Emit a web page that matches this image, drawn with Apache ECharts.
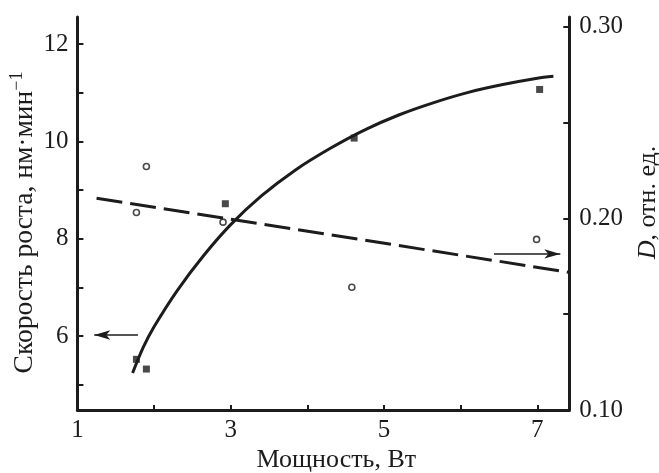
<!DOCTYPE html>
<html>
<head>
<meta charset="utf-8">
<script src="https://cdn.jsdelivr.net/npm/echarts@6/dist/echarts.min.js"></script>
<style>
  html, body { margin: 0; padding: 0; background: #fff; }
  #chart { width: 659px; height: 473px; }
</style>
</head>
<body>
<div id="chart"></div>
<script>
// Growth rate measurements (left axis), nm/min vs power, W
const powerSq = [1.77, 1.90, 2.93, 4.61, 7.03];
const growthSq = [5.52, 5.32, 8.72, 10.07, 11.07];

// Fitted growth-rate curve, sampled along its length
const fitPower = [1.72, 1.86, 2.00, 2.30, 2.65, 3.00, 3.40, 3.85, 4.30, 4.75, 5.20, 5.65, 6.10, 6.55, 7.00, 7.21];
const fitGrowth = [5.24, 5.77, 6.19, 6.93, 7.66, 8.29, 8.88, 9.42, 9.86, 10.24, 10.55, 10.80, 11.01, 11.17, 11.30, 11.34];

// D measurements (right axis), arb. units
const powerCirc = [1.77, 1.90, 2.90, 4.58, 6.99];
const dCirc = [0.203, 0.227, 0.198, 0.164, 0.189];

// Linear trend of D (dashed)
const dTrendPower = [1.25, 7.42];
const dTrendValue = [0.2105, 0.1718];

// Axis ticks and labels
const xTicks = [1, 2, 3, 4, 5, 6, 7];
const xLabels = [1, 3, 5, 7];
const yLeftTicks = [5, 6, 7, 8, 9, 10, 11, 12];
const yLeftLabels = [6, 8, 10, 12];
const yRightTicks = [0.10, 0.15, 0.20, 0.25, 0.30];
const yRightLabels = [0.10, 0.20, 0.30];

// Arrows pointing each data set to its axis
const arrowLeft = { from: [1.79, 6.02], to: [1.22, 6.02] };
const arrowRight = { from: [6.435, 0.1814], to: [7.30, 0.1814] };

const ink = '#1c1c1c';
const serif = '"Liberation Serif", "Times New Roman", serif';

const zip = (a, b) => a.map((v, i) => [v, b[i]]);

const axisCommon = {
  axisLine: { show: true, onZero: false, lineStyle: { color: ink, width: 3 } },
  splitLine: { show: false },
  axisLabel: { color: ink, fontFamily: serif, fontSize: 25 },
  nameTextStyle: { color: ink, fontFamily: serif, fontSize: 26 },
  nameMoveOverlap: false
};

const chart = echarts.init(document.getElementById('chart'), null, { renderer: 'canvas' });

chart.setOption({
  animation: false,
  backgroundColor: '#fff',
  grid: { left: 77.4, right: 89.7, top: 17, bottom: 63, containLabel: false, outerBoundsMode: 'none' },
  xAxis: {
    type: 'value',
    min: 1, max: 7.417,
    ...axisCommon,
    axisTick: { show: true, inside: true, length: 5, customValues: xTicks, lineStyle: { color: ink, width: 2 } },
    axisLabel: { ...axisCommon.axisLabel, margin: 8, customValues: xLabels },
    name: 'Мощность, Вт',
    nameLocation: 'middle',
    nameGap: 37,
    nameTextStyle: { ...axisCommon.nameTextStyle, padding: [0, 0, 0, 26] }
  },
  yAxis: [
    {
      type: 'value',
      position: 'left',
      min: 4.478, max: 12.56,
      ...axisCommon,
      axisTick: { show: true, inside: true, length: 6, customValues: yLeftTicks, lineStyle: { color: ink, width: 2 } },
      axisLabel: { ...axisCommon.axisLabel, margin: 9, customValues: yLeftLabels },
      name: '{a|Скорость роста, нм·мин}{s|−1}',
      nameLocation: 'middle',
      nameRotate: 90,
      nameGap: 37,
      nameTextStyle: {
        ...axisCommon.nameTextStyle,
        padding: [0, 18, 0, 0],
        rich: {
          a: { fontFamily: serif, fontSize: 27.5, color: ink, lineHeight: 32 },
          s: { fontFamily: serif, fontSize: 18, color: ink, verticalAlign: 'top', lineHeight: 18 }
        }
      }
    },
    {
      type: 'value',
      position: 'right',
      min: 0.10, max: 0.305,
      ...axisCommon,
      axisTick: { show: true, inside: true, length: 6, customValues: yRightTicks, lineStyle: { color: ink, width: 2 } },
      axisLabel: {
        ...axisCommon.axisLabel, margin: 10, customValues: yRightLabels,
        formatter: v => v.toFixed(2)
      },
      name: '{i|D}{a|, отн. ед.}',
      nameLocation: 'middle',
      nameRotate: 90,
      nameGap: 66,
      nameTextStyle: {
        ...axisCommon.nameTextStyle,
        padding: [0, 0, 0, 22],
        rich: {
          i: { fontFamily: serif, fontSize: 26, fontStyle: 'italic', color: ink },
          a: { fontFamily: serif, fontSize: 26, color: ink }
        }
      }
    }
  ],
  series: [
    {
      name: 'fit',
      type: 'line',
      yAxisIndex: 0,
      data: zip(fitPower, fitGrowth),
      smooth: 0.3,
      showSymbol: false,
      lineStyle: { color: ink, width: 3 },
      markLine: {
        silent: true,
        symbol: ['none', 'arrow'],
        symbolSize: [7, 16],
        label: { show: false },
        lineStyle: { color: ink, width: 1.5, type: 'solid' },
        data: [[{ coord: arrowLeft.from }, { coord: arrowLeft.to }]]
      }
    },
    {
      name: 'growth',
      type: 'scatter',
      yAxisIndex: 0,
      data: zip(powerSq, growthSq),
      symbol: 'rect',
      symbolSize: 7,
      itemStyle: { color: ink }
    },
    {
      name: 'D trend',
      type: 'line',
      yAxisIndex: 1,
      data: zip(dTrendPower, dTrendValue),
      showSymbol: false,
      lineStyle: { color: ink, width: 3, type: [26, 8] },
      markLine: {
        silent: true,
        symbol: ['none', 'arrow'],
        symbolSize: [7, 16],
        label: { show: false },
        lineStyle: { color: ink, width: 1.5, type: 'solid' },
        data: [[{ coord: arrowRight.from }, { coord: arrowRight.to }]]
      }
    },
    {
      name: 'D',
      type: 'scatter',
      yAxisIndex: 1,
      data: zip(powerCirc, dCirc),
      symbol: 'circle',
      symbolSize: 6,
      itemStyle: { color: '#fff', borderColor: ink, borderWidth: 1.6 }
    }
  ]
});
</script>
</body>
</html>
